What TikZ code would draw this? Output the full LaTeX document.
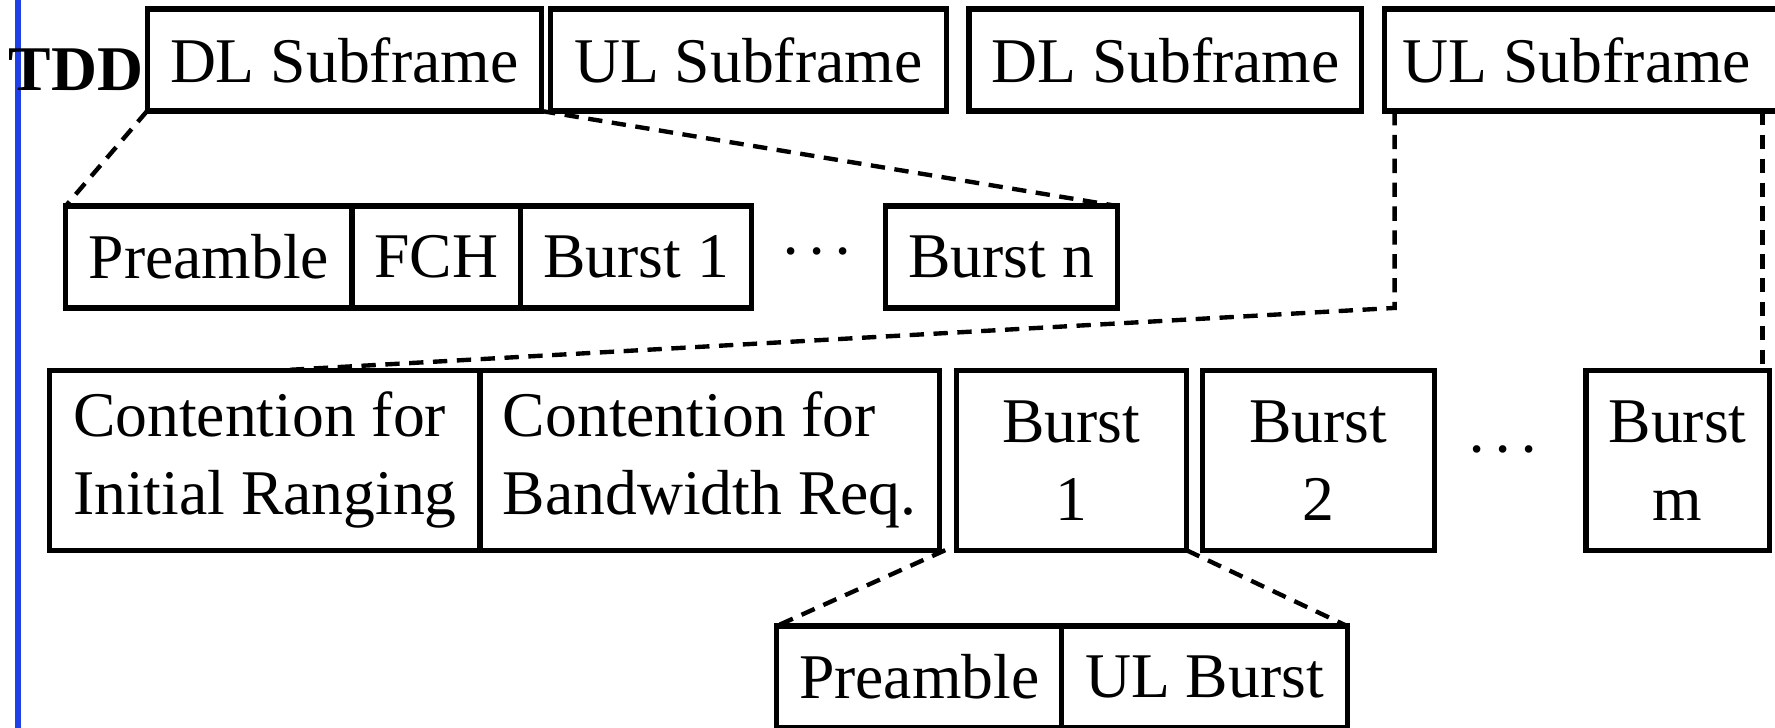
\documentclass[tikz,border=0pt]{standalone}
\usepackage{fontspec}
\setmainfont{Liberation Serif}
\usetikzlibrary{positioning}
\definecolor{Rule}{HTML}{1E40E6}
\definecolor{Ink}{HTML}{000000}
\newcommand{\mdots}{·\kern1.2pt·\kern1.2pt·}

\begin{document}
\begin{tikzpicture}[font=\fontsize{16}{19.3}\selectfont,
  slot/.style={draw=Ink,line width=1.3pt,rectangle,inner sep=0pt,outer sep=0pt,minimum height=0.9cm,anchor=north west,align=center},
  tall/.style={slot,minimum height=1.59cm,font=\fontsize{16}{19.6}\selectfont},
  zoomline/.style={Ink,line width=1.1pt,dash pattern=on 3.6pt off 2.4pt}]
\useasboundingbox (0,0) rectangle (15.68,-6.43);
\draw[Rule,line width=1.6pt] (0.16,0.1)--(0.16,-6.53);
\node[anchor=base,font=\fontsize{16}{19.3}\selectfont\bfseries] (tdd) at (0.67,-0.80){TDD};
\node[slot,minimum width=3.48cm] (dl1) at (1.30,-0.08){DL Subframe};
\node[slot,minimum width=3.50cm] (ul1) at (4.86,-0.08){UL Subframe};
\node[slot,minimum width=3.47cm] (dl2) at (8.56,-0.08){DL Subframe};
\node[slot,minimum width=3.50cm] (ul2) at (12.23,-0.08){UL Subframe\hspace*{1mm}};
\node[slot,minimum width=2.53cm] (pre) at (0.58,-1.82){Preamble};
\node[slot,minimum width=1.49cm,right=0pt of pre] (fch){FCH};
\node[slot,minimum width=2.04cm,right=0pt of fch] (b1){Burst 1};
\node (dn) at (7.22,-2.30){\mdots};
\node[slot,minimum width=2.05cm] (bn) at (7.82,-1.82){Burst n};
\node[tall,align=left,minimum width=3.80cm] (cir) at (0.44,-3.27){Contention for\\Initial Ranging};
\node[tall,align=left,minimum width=4.06cm,right=0pt of cir] (cbr){Contention for\\Bandwidth Req.};
\node[tall,minimum width=2.03cm] (ub1) at (8.45,-3.27){Burst\\1};
\node[tall,minimum width=2.05cm] (ub2) at (10.62,-3.27){Burst\\2};
\node (dm) at (13.28,-4.05){\mdots};
\node[tall,minimum width=1.62cm] (ubm) at (14.01,-3.27){Burst\\m};
\node[slot,minimum width=2.52cm] (pre2) at (6.86,-5.53){Preamble};
\node[slot,minimum width=2.52cm,right=0pt of pre2] (ulb){UL Burst};
\draw[zoomline] (dl1.south west)--(pre.north west);
\draw[zoomline] (dl1.south east)--(bn.north east);
\coordinate (ulk) at (12.32,-2.72);
\coordinate (mtop) at ([xshift=-0.6mm]ubm.north east);
\draw[zoomline] (ulk |- ul2.south)--(ulk)--([xshift=1.6mm]cir.north);
\draw[zoomline] (mtop |- ul2.south)--(mtop);
\draw[zoomline] ([xshift=-1mm]ub1.south west)--(pre2.north west);
\draw[zoomline] (ub1.south east)--(ulb.north east);
\end{tikzpicture}
\end{document}
